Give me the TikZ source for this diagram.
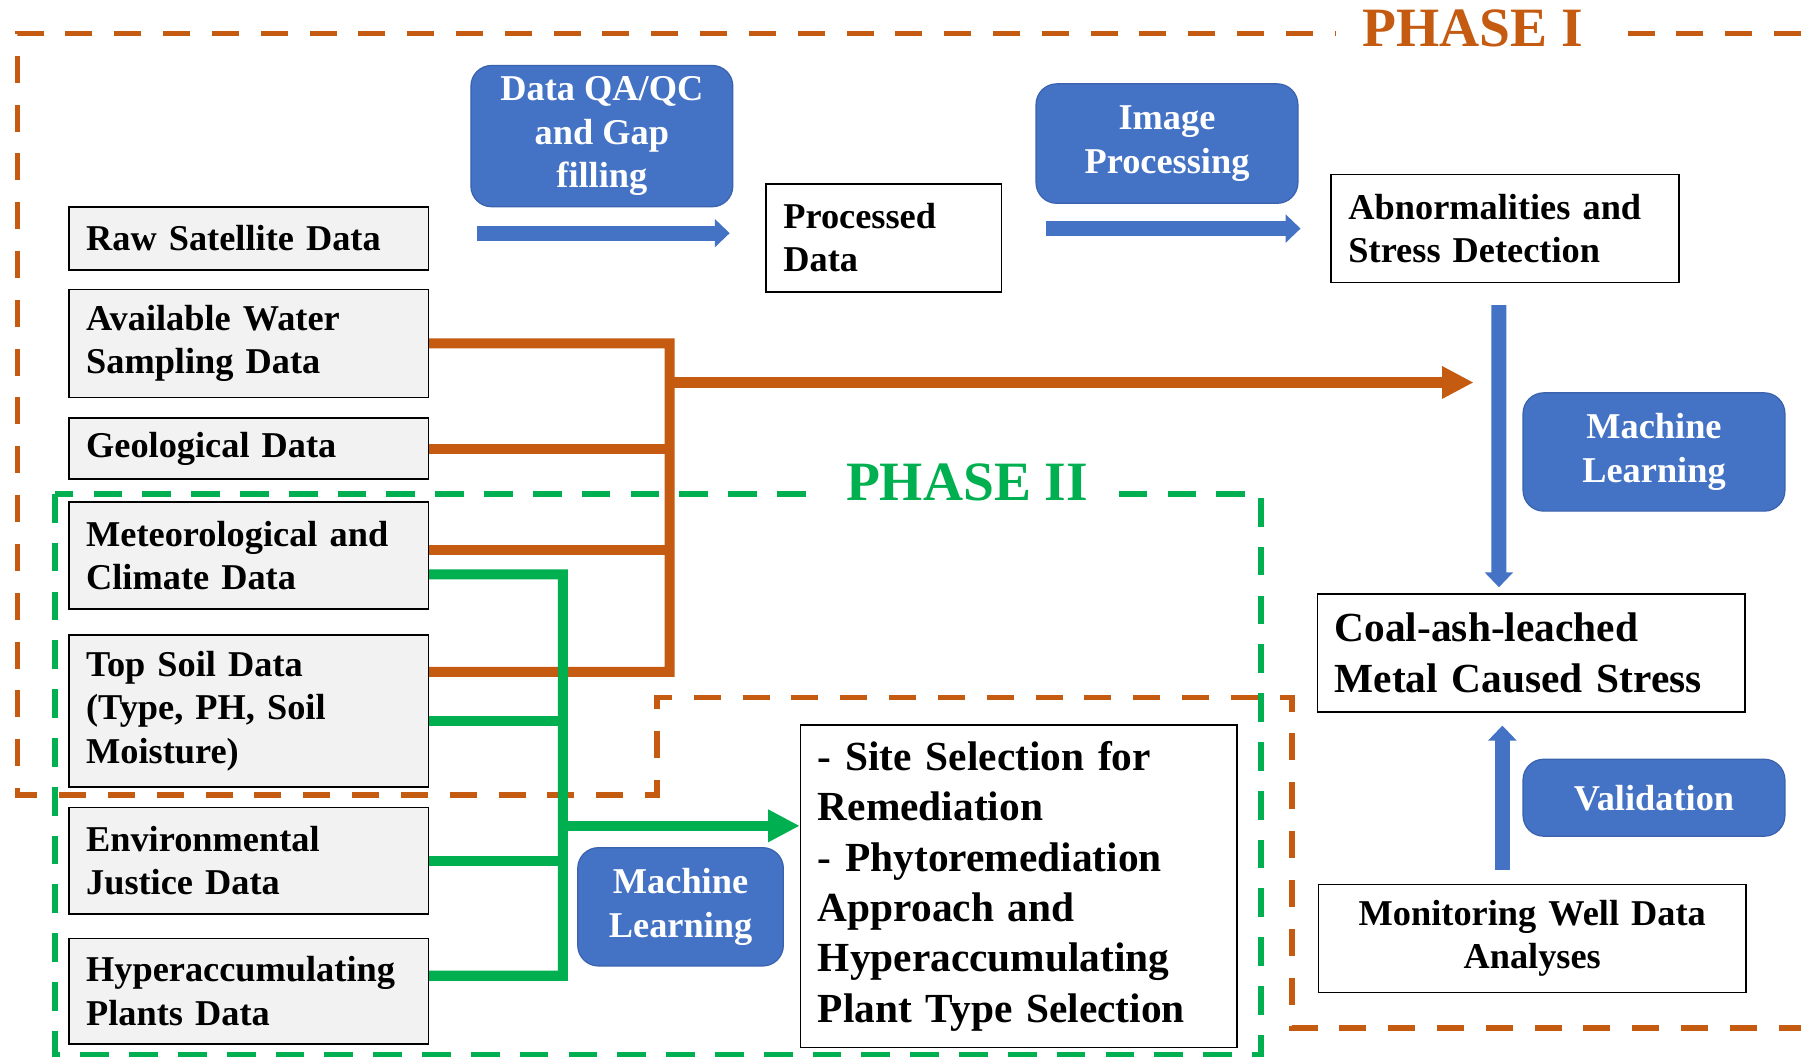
\documentclass[tikz,border=0pt]{standalone}
\usepackage{fontspec}
\setmainfont{Liberation Serif}
\usetikzlibrary{arrows.meta}

\definecolor{phaseorange}{HTML}{C55A11}
\definecolor{phasegreen}{HTML}{00B050}
\definecolor{boxblue}{HTML}{4472C4}
\definecolor{boxedge}{HTML}{3A62AD}
\definecolor{boxgray}{HTML}{F2F2F2}

\begin{document}
\begin{tikzpicture}[x=0.2mm, y=-0.2mm,
  txt/.style={font=\fontsize{18}{21.5}\selectfont\bfseries},
  bigtxt/.style={font=\fontsize{20.5}{25}\selectfont\bfseries},
  databox/.style={draw, line width=0.8pt, fill=boxgray, txt, align=left, text width=56.6mm, inner xsep=3mm, inner ysep=0pt},
  outbox/.style={draw, line width=0.8pt, fill=white, align=left, inner xsep=3mm, inner ysep=0pt},
  stepbox/.style={draw=boxedge, line width=0.6pt, fill=boxblue, text=white, txt, align=center, rounded corners=3.6mm, inner sep=0pt},
  phaselabel/.style={fill=white, font=\fontsize{27.5}{30}\selectfont\bfseries, inner ysep=1mm},
  phaseI/.style={draw=phaseorange, line width=0.94mm, dash pattern=on 4.7mm off 3.8mm},
  phaseII/.style={draw=phasegreen, line width=1mm, dash pattern=on 5mm off 3.5mm},
  oline/.style={draw=phaseorange, line width=1.75mm},
  gline/.style={draw=phasegreen, line width=1.75mm},
  barrow/.style={draw=boxblue, line width=2.6mm, -{Triangle[width=4.8mm,length=2.6mm]}},
  bigtip/.style={-{Triangle[width=5.3mm,length=5.5mm]}}]
  \useasboundingbox (0,0) rectangle (1568,922);

  % Phase boundaries
  \draw[phaseI] (1568,29) -- (15,29) -- (15,692) -- (572,692) -- (572,607)
    -- (1125,607) -- (1125,895) -- (1568,895);
  \draw[phaseII] (48,430) rectangle (1098,918);
  \node[phaselabel, text=phaseorange, inner xsep=4.5mm] (phone) at (1282,25) {PHASE I};
  \node[phaselabel, text=phasegreen, inner xsep=3.6mm] (phtwo) at (842,420) {PHASE II};

  % Input data
  \node[databox, minimum height=11mm] (raw) at (216.5,207.5) {Raw Satellite Data};
  \node[databox, minimum height=18.8mm] (water) at (216.5,299) {Available Water\\Sampling Data};
  \node[databox, minimum height=10.6mm] (geo) at (216.5,390.5) {Geological Data};
  \node[databox, minimum height=18.6mm] (met) at (216.5,483.5) {Meteorological and\\Climate Data};
  \node[databox, minimum height=26.4mm] (soil) at (216.5,619) {Top Soil Data\\(Type, PH, Soil\\Moisture)};
  \node[databox, minimum height=18.6mm] (envj) at (216.5,749.5) {Environmental\\Justice Data};
  \node[databox, minimum height=18.4mm] (hyper) at (216.5,863) {Hyperaccumulating\\Plants Data};

  % Processing steps
  \node[stepbox, minimum width=45.6mm, minimum height=24.6mm] (qa) at (524,118.5) {Data QA/QC\\and Gap\\filling};
  \node[stepbox, minimum width=45.6mm, minimum height=20.8mm] (imgp) at (1016,125) {Image\\Processing};
  \node[stepbox, minimum width=45.6mm, minimum height=20.6mm] (mlr) at (1440,393.5) {Machine\\Learning};
  \node[stepbox, minimum width=45.6mm, minimum height=13.4mm] (valid) at (1440,694.5) {Validation};
  \node[stepbox, minimum width=35.8mm, minimum height=20.6mm] (mlb) at (592.5,789.5) {Machine\\Learning};

  % Results
  \node[outbox, txt, text width=35mm, minimum height=18.8mm] (proc) at (769.5,207) {Processed\\Data};
  \node[outbox, txt, text width=54.6mm, minimum height=18.8mm] (abn) at (1310.5,199) {Abnormalities and\\Stress Detection};
  \node[outbox, bigtxt, text width=68.4mm, minimum height=20.6mm] (coal) at (1333,568.5) {Coal-ash-leached\\Metal Caused Stress};
  \node[outbox, txt, align=center, text width=68.4mm, minimum height=18.8mm] (mon) at (1334,817) {Monitoring Well Data\\Analyses};
  \node[outbox, bigtxt, text width=70mm, minimum height=56.2mm] (site) at (887,771.5) {- Site Selection for\\Remediation\\- Phytoremediation\\Approach and\\Hyperaccumulating\\Plant Type Selection};

  % Phase I connectors
  \coordinate (otop) at (583,299);
  \coordinate (obot) at (583,585);
  \coordinate (ojoin) at (583,333);
  \coordinate (oend) at (1283,333);
  \draw[oline] (water.east) -- (otop) -- (obot) -- ([yshift=6.8mm]soil.east);
  \draw[oline] (geo.east) -- +(210,0);
  \draw[oline] ([yshift=0.9mm]met.east) -- +(210,0);
  \draw[oline, bigtip] (ojoin) -- (oend);

  % Phase II connectors
  \coordinate (gtop) at (490,500);
  \coordinate (gbot) at (490,849.5);
  \coordinate (gjoin) at (490,719);
  \draw[gline] ([yshift=-3.3mm]met.east) -- (gtop) -- (gbot) -- ([yshift=2.7mm]hyper.east);
  \draw[gline] ([yshift=-1.7mm]soil.east) -- +(117,0);
  \draw[gline] (envj.east) -- +(117,0);
  \draw[gline, bigtip] (gjoin) -- (site.west |- gjoin);

  % Blue arrows
  \draw[barrow] ([xshift=8.4mm,yshift=0.9mm]raw.east) -- ([xshift=-6.2mm,yshift=0.8mm]proc.west);
  \draw[barrow] ([xshift=-49.6mm]abn.west) -- ([xshift=-5.2mm]abn.west);
  \draw[barrow] ([xshift=-1.1mm,yshift=-3.8mm]abn.south) -- ([xshift=-5.6mm,yshift=1mm]coal.north);
  \draw[barrow] ([xshift=-5.2mm,yshift=2.4mm]mon.north) -- ([xshift=-5mm,yshift=-2.2mm]coal.south);
\end{tikzpicture}
\end{document}
